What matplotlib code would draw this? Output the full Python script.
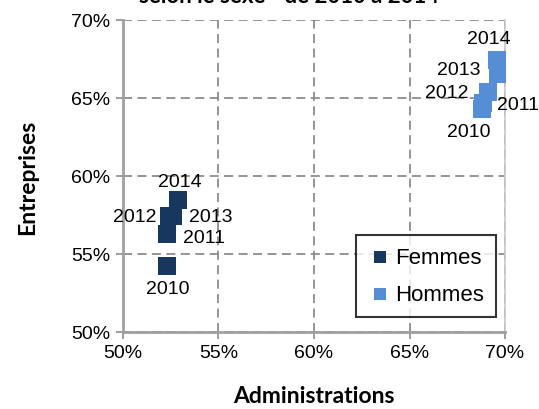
import matplotlib.pyplot as plt
from matplotlib.ticker import FuncFormatter

plt.rcParams['font.family'] = ['Liberation Sans', 'DejaVu Sans']

years = ['2010', '2011', '2012', '2013', '2014']

# Administrations (x) / Entreprises (y), in %
femmes_admin = [52.33, 52.33, 52.41, 52.6, 52.9]
femmes_entr = [54.2, 56.3, 57.42, 57.42, 58.48]
hommes_admin = [68.78, 68.87, 69.13, 69.65, 69.57]
hommes_entr = [64.28, 64.66, 65.37, 66.54, 67.45]

# label offsets in points (dx, dy, ha)
femmes_lbl = [(0, -16, 'center'), (11, -3, 'left'), (-9, 0, 'right'), (12, 0, 'left'), (1, 13, 'center')]
hommes_lbl = [(-9, -16, 'center'), (10, -1, 'left'), (-14, 0, 'right'), (-13, 3, 'right'), (-6, 15, 'center')]

fig = plt.figure(figsize=(5.39, 4.10), dpi=100)
ax = fig.add_axes([0.228, 0.188, 0.709, 0.761])

c_f = '#17375E'
c_h = '#558ED5'

ax.scatter(femmes_admin, femmes_entr, marker='s', s=150, color=c_f, label='Femmes', zorder=3, linewidths=0)
ax.scatter(hommes_admin, hommes_entr, marker='s', s=150, color=c_h, label='Hommes', zorder=3, linewidths=0)

for xs, ys, lbls in [(femmes_admin, femmes_entr, femmes_lbl), (hommes_admin, hommes_entr, hommes_lbl)]:
    for x, y, yr, (dx, dy, ha) in zip(xs, ys, years, lbls):
        ax.annotate(yr, (x, y), xytext=(dx, dy), textcoords='offset points',
                    ha=ha, va='center', fontsize=14, zorder=4)

ax.set_xlim(50, 70)
ax.set_ylim(50, 70)
ax.set_xticks([50, 55, 60, 65, 70])
ax.set_yticks([50, 55, 60, 65, 70])
pct = FuncFormatter(lambda v, p: '%d%%' % v)
ax.xaxis.set_major_formatter(pct)
ax.yaxis.set_major_formatter(pct)
ax.tick_params(labelsize=14, length=5, width=1.2, color='#8c8c8c', direction='out', pad=4)

ax.grid(True, color='#8c8c8c', linestyle=(0, (5, 3)), linewidth=1.3)
ax.set_axisbelow(True)
for s in ['left', 'bottom']:
    ax.spines[s].set_color('#a0a0a0')
    ax.spines[s].set_linewidth(2)
ax.spines['top'].set_visible(False)
ax.spines['right'].set_color('#c8c8c8')
ax.spines['right'].set_linewidth(1.2)

lab_font = ['Lato', 'DejaVu Sans']
ax.set_xlabel('Administrations', fontsize=16.5, fontweight='bold', family=lab_font, labelpad=17)
ax.set_ylabel('Entreprises', fontsize=16.5, fontweight='bold', family=lab_font, labelpad=24)

leg = ax.legend(loc='lower right', bbox_to_anchor=(0.976, 0.048), fontsize=16, frameon=True,
                fancybox=False, edgecolor='black', handletextpad=0.1, labelspacing=0.7,
                borderpad=0.55, handlelength=1.1, markerscale=0.75, borderaxespad=0)
leg.get_frame().set_linewidth(1.5)

fig.text(0.536, 0.993, 'selon le sexe - de 2010 à 2014', ha='center', va='baseline',
         fontsize=16, fontweight='bold', family=lab_font)

fig.savefig('out.png', dpi=100)
